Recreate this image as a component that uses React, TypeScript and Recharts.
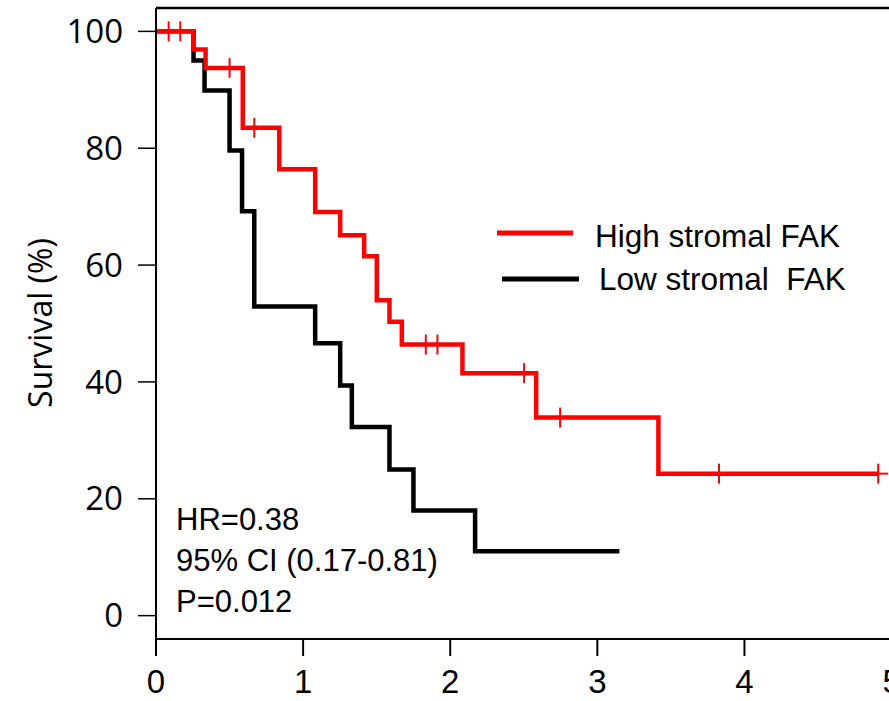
import React from 'react';
import { ComposedChart, Line, Scatter, XAxis, YAxis, ReferenceLine, Legend } from 'recharts';

// Time axis (years) and survival (%) ticks
const xTicks = [0, 1, 2, 3, 4, 5];
const yTicks = [0, 20, 40, 60, 80, 100];

// High stromal FAK (red) Kaplan-Meier steps
const highTimes = [0, 0.255, 0.337, 0.59, 0.838, 1.082, 1.252, 1.415, 1.501, 1.587, 1.671, 2.083, 2.584, 3.415, 4.909];
const highSurv = [100, 96.9, 93.75, 83.5, 76.4, 69.1, 65.1, 61.5, 54.0, 50.3, 46.4, 41.5, 33.9, 24.3, 24.3];
// Censored observations on the high curve
const highCensorTimes = [0.086, 0.165, 0.5, 0.668, 1.834, 1.913, 2.502, 2.747, 3.827, 4.909];
const highCensorSurv = [100, 100, 93.75, 83.5, 46.4, 46.4, 41.5, 33.9, 24.3, 24.3];

// Low stromal FAK (black) Kaplan-Meier steps
const lowTimes = [0, 0.255, 0.33, 0.5, 0.585, 0.668, 1.082, 1.252, 1.331, 1.587, 1.75, 2.169, 3.15];
const lowSurv = [100, 95.0, 89.9, 79.6, 69.2, 52.9, 46.6, 39.4, 32.3, 25.0, 18.0, 11.0, 11.0];

const seriesNames = ['High stromal FAK', 'Low stromal  FAK'];
const statsLines = ['HR=0.38', '95% CI (0.17-0.81)', 'P=0.012'];

const highData = highTimes.map((t, i) => ({ t, s: highSurv[i] }));
const lowData = lowTimes.map((t, i) => ({ t, s: lowSurv[i] }));
const censorData = highCensorTimes.map((t, i) => ({ t, s: highCensorSurv[i] }));

const ARIAL = '"Liberation Sans", Arial, sans-serif';
const CALIBRI = '"Open Sans", "Noto Sans", sans-serif';

const CensorMark = (props: any) => {
  const { cx, cy } = props;
  if (cx == null || cy == null) return null;
  return (
    <g>
      <line x1={cx} x2={cx} y1={cy - 10} y2={cy + 10} stroke="#ff0000" strokeWidth={2} />
      <line x1={cx - 10} x2={cx + 10} y1={cy} y2={cy} stroke="#ff0000" strokeWidth={2} />
    </g>
  );
};

const LegendContent = () => (
  <svg width={889} height={701} style={{ position: 'absolute', left: 0, top: 0 }}>
    <line x1={497} x2={573} y1={233} y2={233} stroke="#ff0000" strokeWidth={5} />
    <text x={595} y={247} fontFamily={ARIAL} fontSize={31.5} fill="#000" style={{ whiteSpace: 'pre' }}>{seriesNames[0]}</text>
    <line x1={502} x2={579} y1={279} y2={279} stroke="#000" strokeWidth={5} />
    <text x={599} y={290} fontFamily={ARIAL} fontSize={31.5} fill="#000" style={{ whiteSpace: 'pre' }}>{seriesNames[1]}</text>
  </svg>
);

const YTitle = () => (
  <text
    x={39}
    y={323}
    transform="rotate(-90 39 323)"
    textAnchor="middle"
    dominantBaseline="central"
    fontFamily={CALIBRI}
    fontSize={32}
    fill="#000"
  >
    Survival (%)
  </text>
);

export default function App() {
  return (
    <div style={{ position: 'fixed', left: 0, top: 0, width: 889, height: 701, overflow: 'hidden', background: '#fff' }}>
      <ComposedChart width={1000} height={701} margin={{ top: 8, right: 79, bottom: 0, left: 0 }}>
        <XAxis
          type="number"
          dataKey="t"
          domain={[0, 5.2]}
          ticks={xTicks}
          interval={0}
          allowDataOverflow
          height={62}
          tickSize={17}
          tickMargin={14}
          axisLine={{ stroke: '#000', strokeWidth: 2 }}
          tickLine={{ stroke: '#000', strokeWidth: 2 }}
          tick={{ fontSize: 33, fontFamily: ARIAL, fill: '#000' }}
        />
        <YAxis
          type="number"
          dataKey="s"
          domain={[-4, 104]}
          ticks={yTicks}
          interval={0}
          allowDataOverflow
          width={156}
          tickSize={18}
          tickMargin={15}
          axisLine={{ stroke: '#000', strokeWidth: 2 }}
          tickLine={{ stroke: '#000', strokeWidth: 1.5 }}
          tick={{ fontSize: 33, fontFamily: CALIBRI, fill: '#000' }}
          label={{ content: () => <YTitle /> }}
        />
        <ReferenceLine y={104} stroke="#000" strokeWidth={2.5} />
        <Legend layout="horizontal" verticalAlign="middle" align="center"
          wrapperStyle={{ left: 0, top: 0, width: 889, height: 701, pointerEvents: 'none' }}
          content={() => <LegendContent />} />
        <Line data={lowData} dataKey="s" type="stepAfter" stroke="#000" strokeWidth={4.5} dot={false} activeDot={false} isAnimationActive={false} name={seriesNames[1]} />
        <Line data={highData} dataKey="s" type="stepAfter" stroke="#ff0000" strokeWidth={4.5} dot={false} activeDot={false} isAnimationActive={false} name={seriesNames[0]} />
        <Scatter data={censorData} dataKey="s" shape={<CensorMark />} isAnimationActive={false} />
      </ComposedChart>
      <svg width={889} height={701} style={{ position: 'absolute', left: 0, top: 0, pointerEvents: 'none' }}>
        {statsLines.map((txt, i) => (
          <text key={txt} x={176} y={530 + i * 41} fontFamily={ARIAL} fontSize={31} fill="#000">{txt}</text>
        ))}
      </svg>
    </div>
  );
}
